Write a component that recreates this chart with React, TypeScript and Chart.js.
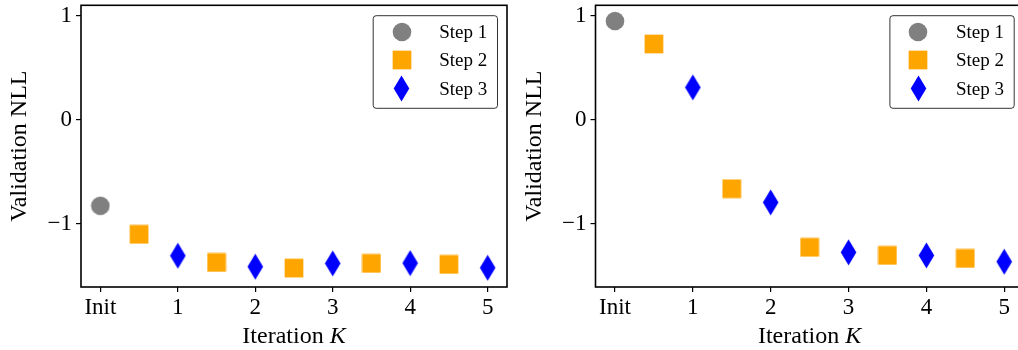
import React, { useEffect, useRef } from "react";
import { Chart, registerables } from "chart.js";

Chart.register(...registerables);

// ---------- data ----------
const xTickValues = [0, 1, 2, 3, 4, 5];
const xTickLabels = ["Init", "1", "2", "3", "4", "5"];
const yTickValues = [-1, 0, 1];

const step1X = [0];
const step2X = [0.5, 1.5, 2.5, 3.5, 4.5];
const step3X = [1, 2, 3, 4, 5];

const leftStep1 = [-0.824];
const leftStep2 = [-1.099, -1.369, -1.423, -1.378, -1.388];
const leftStep3 = [-1.304, -1.41, -1.378, -1.375, -1.42];

const rightStep1 = [0.952];
const rightStep2 = [0.731, -0.66, -1.224, -1.301, -1.33];
const rightStep3 = [0.314, -0.792, -1.272, -1.301, -1.362];

const seriesLabels = ["Step 1", "Step 2", "Step 3"];
const seriesColors = ["#808080", "#FFA500", "#0000FF"];
const xTitleMain = "Iteration ";
const xTitleVar = "K";
const yTitle = "Validation NLL";

const FONT = "'Liberation Serif', 'Times New Roman', serif";

// ---------- marker images ----------
function makeMarker(kind: string, color: string): HTMLCanvasElement {
  const c = document.createElement("canvas");
  const ctx = c.getContext("2d")!;
  if (kind === "circle") {
    c.width = 20;
    c.height = 20;
    ctx.fillStyle = color;
    ctx.beginPath();
    ctx.arc(10, 10, 9.3, 0, Math.PI * 2);
    ctx.fill();
  } else if (kind === "square") {
    c.width = 20;
    c.height = 20;
    ctx.fillStyle = color;
    ctx.fillRect(0.65, 0.65, 18.7, 18.7);
  } else {
    c.width = 17;
    c.height = 27;
    ctx.fillStyle = color;
    ctx.beginPath();
    ctx.moveTo(8.5, 0.6);
    ctx.lineTo(16.3, 13.5);
    ctx.lineTo(8.5, 26.4);
    ctx.lineTo(0.7, 13.5);
    ctx.closePath();
    ctx.fill();
  }
  return c;
}

function zip(xs: number[], ys: number[]) {
  return xs.map((x, i) => ({ x, y: ys[i] }));
}

const fmtY = (v: number) => (v < 0 ? "\u2212" + Math.abs(v) : String(v));

const frameAndLegend = {
  id: "frameAndLegend",
  afterDraw(chart: any) {
    const { ctx, chartArea } = chart;
    const { left, right, top, bottom } = chartArea;
    ctx.save();
    // frame
    ctx.strokeStyle = "#000";
    ctx.lineWidth = 1.6;
    ctx.strokeRect(left, top, right - left, bottom - top);

    // x-axis title with italic variable
    const xs = chart.scales.x;
    const cxTitle = xs.getPixelForValue(2.5);
    ctx.fillStyle = "#000";
    ctx.textBaseline = "alphabetic";
    ctx.textAlign = "left";
    const fMain = `24px ${FONT}`;
    const fVar = `italic 24px ${FONT}`;
    ctx.font = fMain;
    const w1 = ctx.measureText(xTitleMain).width;
    ctx.font = fVar;
    const w2 = ctx.measureText(xTitleVar).width;
    const startX = cxTitle - (w1 + w2) / 2;
    ctx.font = fMain;
    ctx.fillText(xTitleMain, startX, 343);
    ctx.font = fVar;
    ctx.fillText(xTitleVar, startX + w1, 343);

    // legend
    const w = 124.3;
    const h = 92.6;
    const bx = right - 9.5 - w;
    const by = top + 10.4;
    const r = 3;
    ctx.beginPath();
    ctx.moveTo(bx + r, by);
    ctx.lineTo(bx + w - r, by);
    ctx.quadraticCurveTo(bx + w, by, bx + w, by + r);
    ctx.lineTo(bx + w, by + h - r);
    ctx.quadraticCurveTo(bx + w, by + h, bx + w - r, by + h);
    ctx.lineTo(bx + r, by + h);
    ctx.quadraticCurveTo(bx, by + h, bx, by + h - r);
    ctx.lineTo(bx, by + r);
    ctx.quadraticCurveTo(bx, by, bx + r, by);
    ctx.closePath();
    ctx.fillStyle = "rgba(255,255,255,0.8)";
    ctx.fill();
    ctx.strokeStyle = "rgba(0,0,0,0.8)";
    ctx.lineWidth = 1;
    ctx.stroke();
    const rows = [16, 44.6, 73];
    ctx.font = `19px ${FONT}`;
    ctx.fillStyle = "#000";
    ctx.textBaseline = "middle";
    ctx.textAlign = "left";
    chart.data.datasets.forEach((ds: any, i: number) => {
      const img = ds.pointStyle as HTMLCanvasElement;
      const cx = bx + 28.3;
      const cy = by + rows[i];
      ctx.drawImage(img, Math.round(cx - img.width / 2), Math.round(cy - img.height / 2));
      ctx.fillText(ds.label, bx + 66, cy + 1);
    });
    ctx.restore();
  },
};

function makeConfig(
  s1: number[],
  s2: number[],
  s3: number[],
  yAxisWidth: number,
  padRight: number,
  titlePad: number
): any {
  const markers = [
    makeMarker("circle", seriesColors[0]),
    makeMarker("square", seriesColors[1]),
    makeMarker("diamond", seriesColors[2]),
  ];
  const xs = [step1X, step2X, step3X];
  const ys = [s1, s2, s3];
  return {
    type: "scatter",
    data: {
      datasets: seriesLabels.map((label, i) => ({
        label,
        data: zip(xs[i], ys[i]),
        pointStyle: markers[i],
        backgroundColor: seriesColors[i],
        borderColor: seriesColors[i],
      })),
    },
    options: {
      responsive: false,
      animation: false,
      layout: { padding: { left: 0, right: padRight, top: 5.3, bottom: 0 } },
      plugins: { legend: { display: false }, tooltip: { enabled: false } },
      scales: {
        x: {
          type: "linear",
          min: -0.25,
          max: 5.25,
          afterBuildTicks: (s: any) => {
            s.ticks = xTickValues.map((v) => ({ value: v }));
          },
          afterFit: (s: any) => {
            s.height = 63;
            s.paddingLeft = 0;
            s.paddingRight = 0;
          },
          ticks: {
            autoSkip: false,
            maxRotation: 0,
            padding: 2,
            color: "#000",
            font: { family: FONT, size: 23 },
            callback: (v: number) => {
              const i = xTickValues.indexOf(v);
              return i >= 0 ? xTickLabels[i] : "";
            },
          },
          grid: {
            display: true,
            drawOnChartArea: false,
            drawTicks: true,
            tickLength: 5,
            color: "#000",
            lineWidth: 1.2,
          },
          border: { display: false },
          title: { display: false },
        },
        y: {
          type: "linear",
          min: -1.605,
          max: 1.103,
          afterBuildTicks: (s: any) => {
            s.ticks = yTickValues.map((v) => ({ value: v }));
          },
          afterFit: (s: any) => {
            s.width = yAxisWidth;
            s.paddingTop = 0;
            s.paddingBottom = 0;
          },
          ticks: {
            padding: 4,
            color: "#000",
            font: { family: FONT, size: 23 },
            callback: (v: number) => fmtY(v),
          },
          grid: {
            display: true,
            drawOnChartArea: false,
            drawTicks: true,
            tickLength: 5,
            color: "#000",
            lineWidth: 1.2,
          },
          border: { display: false },
          title: {
            display: true,
            text: yTitle,
            color: "#000",
            font: { family: FONT, size: 24 },
            padding: { top: titlePad, bottom: 0 },
          },
        },
      },
    },
    plugins: [frameAndLegend],
  };
}

function ChartCanvas(props: {
  left: number;
  width: number;
  s1: number[];
  s2: number[];
  s3: number[];
  yAxisWidth: number;
  padRight: number;
  titlePad: number;
}) {
  const ref = useRef<HTMLCanvasElement>(null);
  useEffect(() => {
    if (!ref.current) return;
    const chart = new Chart(
      ref.current,
      makeConfig(props.s1, props.s2, props.s3, props.yAxisWidth, props.padRight, props.titlePad)
    );
    return () => chart.destroy();
  }, []);
  return (
    <canvas
      ref={ref}
      width={props.width}
      height={350}
      style={{ position: "absolute", left: props.left, top: 0, width: props.width, height: 350 }}
    />
  );
}

export default function App() {
  return (
    <div
      style={{
        position: "fixed",
        left: 0,
        top: 0,
        width: 1018,
        height: 350,
        overflow: "hidden",
        background: "#fff",
      }}
    >
      <ChartCanvas left={0} width={512} s1={leftStep1} s2={leftStep2} s3={leftStep3} yAxisWidth={81} padRight={2.5} titlePad={5.6} />
      <ChartCanvas left={512} width={520} s1={rightStep1} s2={rightStep2} s3={rightStep3} yAxisWidth={83.5} padRight={8.3} titlePad={8.1} />
    </div>
  );
}
